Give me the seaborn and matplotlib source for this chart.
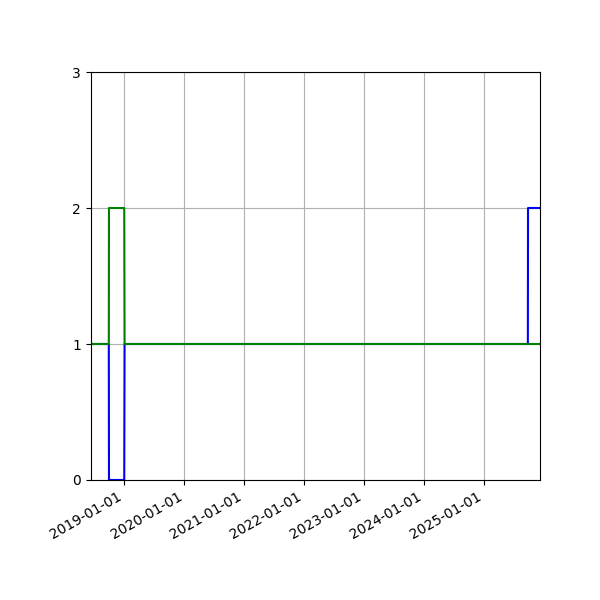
import matplotlib
matplotlib.use("Agg")
import matplotlib.pyplot as plt
import matplotlib.dates as mdates
import seaborn as sns
import pandas as pd

# sample dates and the two series
dates = pd.to_datetime([
    "2018-06-09", "2018-09-28", "2018-09-29", "2018-12-31",
    "2019-01-02", "2025-09-25", "2025-09-26", "2025-12-08",
])
blue_vals = [1, 1, 0, 0, 1, 1, 2, 2]
green_vals = [1, 1, 2, 2, 1, 1, 1, 1]

df = pd.DataFrame({"date": dates, "blue": blue_vals, "green": green_vals})

fig, ax = plt.subplots(figsize=(6, 6), dpi=100)
sns.lineplot(data=df, x="date", y="blue", ax=ax, color="b", linewidth=1.5)
sns.lineplot(data=df, x="date", y="green", ax=ax, color="g", linewidth=1.5)

ax.set_xlim(dates[0], dates[-1])
ax.set_ylim(0, 3)
ax.set_yticks([0, 1, 2, 3])
ax.xaxis.set_major_locator(mdates.YearLocator())
ax.xaxis.set_major_formatter(mdates.DateFormatter("%Y-%m-%d"))
ax.set_xlabel("")
ax.set_ylabel("")
ax.grid(True)
fig.autofmt_xdate()
fig.subplots_adjust(left=0.151, right=0.9, top=0.88, bottom=0.2)

fig.savefig("out.png")
